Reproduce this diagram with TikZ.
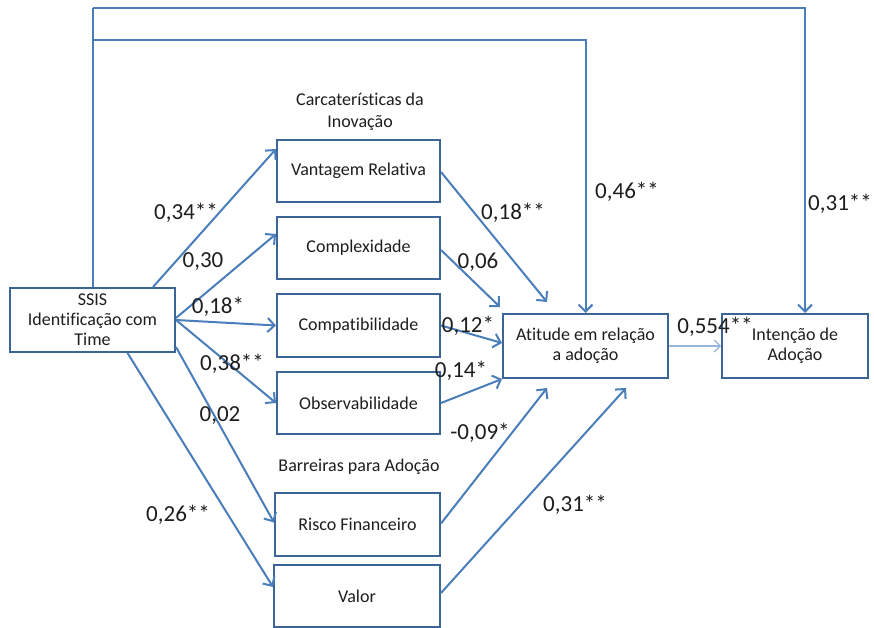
\documentclass[tikz,border=0pt]{standalone}
\usepackage{fontspec}
\setmainfont[Ligatures={NoCommon}]{Carlito}
\usetikzlibrary{arrows.meta,calc}
\definecolor{linec}{RGB}{74,126,187}
\definecolor{boxc}{RGB}{60,100,150}
\definecolor{lightc}{RGB}{150,180,215}
\definecolor{txt}{RGB}{30,30,30}
\tikzset{
  box/.style={draw=boxc, line width=2pt, fill=white, inner sep=2pt, align=center,
    text=txt, font=\fontsize{18}{20}\selectfont},
  conn/.style={draw=linec, line width=2pt, -{Straight Barb[length=7pt,width=14pt,line width=2pt]}},
  plain/.style={draw=linec, line width=2pt},
  lightconn/.style={draw=lightc, line width=1.2pt, -{Straight Barb[length=6pt,width=12pt,line width=1.2pt]}},
  coef/.style={text=txt, font=\fontsize{23}{26}\selectfont, inner sep=0pt},
  head/.style={text=txt, font=\fontsize{18}{22}\selectfont, align=center, inner sep=0pt}
}
\begin{document}
\begin{tikzpicture}[x=1pt,y=-1pt]
\useasboundingbox (0,0) rectangle (874,628);
\clip (0,0) rectangle (874,628);
\fill[white] (0,0) rectangle (874,628);
% boxes
\node[box, minimum width=165pt, minimum height=64pt] (ssis) at (92.5,320) {SSIS\\Identificação com\\Time};
\node[box, minimum width=163pt, minimum height=62pt] (vr) at (358.5,171) {Vantagem Relativa};
\node[box, minimum width=163pt, minimum height=62pt] (cx) at (358.5,248) {Complexidade};
\node[box, minimum width=163pt, minimum height=63pt] (cp) at (358.5,325.5) {Compatibilidade};
\node[box, minimum width=163pt, minimum height=62pt] (ob) at (358.5,403) {Observabilidade};
\node[box, minimum width=165pt, minimum height=63pt] (rf) at (357.5,524.5) {Risco Financeiro};
\node[box, minimum width=166pt, minimum height=62pt] (va) at (357,596) {Valor};
\node[box, minimum width=165pt, minimum height=64pt] (at) at (585.5,346) {Atitude em relação\\a adoção};
\node[box, minimum width=146pt, minimum height=64pt] (in) at (795,346) {Intenção de\\Adoção};
% headings
\node[head] (h1) at (360,112) {Carcaterísticas da\\Inovação};
\node[head] (h2) at (359,467) {Barreiras para Adoção};
% top routes
\coordinate (o1) at (92.5,8);
\coordinate (o2) at (805,8);
\coordinate (i1) at (92.5,40);
\coordinate (i2) at (585.5,40);
\draw[plain] (ssis.north) -- (o1);
\draw[conn] (o1) -- (o2) -- ($(in.north)+(10,0)$);
\draw[conn] (i1) -- (i2) -- (at.north);
% fan out from SSIS
\draw[conn] ($(ssis.north east)+(-23,0)$) -- ($(vr.north west)+(0,10)$);
\draw[conn] ($(ssis.east)+(0,-2)$) -- ($(cx.north west)+(0,18)$);
\draw[conn] (ssis.east) -- (cp.west);
\draw[conn] (ssis.east) -- (ob.west);
\draw[conn] ($(ssis.south east)+(0,-6)$) -- ($(rf.west)+(0,-2)$);
\draw[conn] ($(ssis.south)+(35,0)$) -- ($(va.west)+(0,-9)$);
% into Atitude
\draw[conn] ($(vr.east)+(0,1)$) -- ($(at.north west)+(45,-11)$);
\draw[conn] ($(cx.east)+(0,2)$) -- ($(at.north west)+(-2,-6)$);
\draw[conn] (cp.east) -- ($(at.west)+(0,-3)$);
\draw[conn] (ob.east) -- (at.south west);
\draw[conn] ($(rf.east)+(0,-1)$) -- ($(at.south west)+(45,9)$);
\draw[conn] ($(va.east)+(0,-3)$) -- ($(at.south west)+(124,9)$);
\draw[lightconn] (at.east) -- (in.west);
% coefficients
\node[coef] (l1) at (186,213) {0,34**};
\node[coef] (l2) at (203,262) {0,30};
\node[coef] (l3) at (218,307) {0,18*};
\node[coef] (l4) at (232,364) {0,38**};
\node[coef] (l5) at (220,416) {0,02};
\node[coef] (l6) at (178,515) {0,26**};
\node[coef] (l7) at (513,213) {0,18**};
\node[coef] (l8) at (478,262) {0,06};
\node[coef] (l9) at (468,326) {0,12*};
\node[coef] (l10) at (461,371) {0,14*};
\node[coef] (l11) at (480,433) {-0,09*};
\node[coef] (l12) at (575,505) {0,31**};
\node[coef] (l13) at (627,192) {0,46**};
\node[coef] (l14) at (715,327) {0,554**};
\node[coef, anchor=east] (l15) at (872,204) {0,31**};
\end{tikzpicture}
\end{document}
